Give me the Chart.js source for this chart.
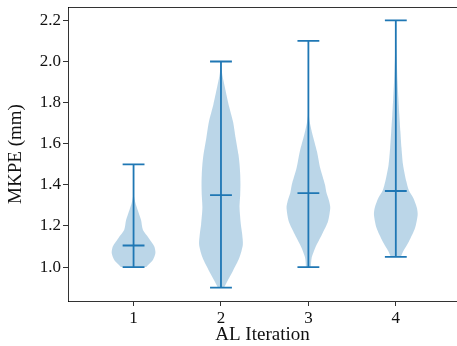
<!DOCTYPE html>
<html><head><meta charset="utf-8">
<script src="https://cdn.jsdelivr.net/npm/chart.js@4.4.1/dist/chart.umd.min.js"></script>
<style>
html,body{margin:0;padding:0;overflow:hidden;background:#fff;width:457px;height:346px}
</style>
</head><body><canvas id="c" width="457" height="346"></canvas>
<script>
// ---- data ----
const categories = ['1', '2', '3', '4'];
const positions = [1, 2, 3, 4];
const mins = [1.0, 0.9, 1.0, 1.05];
const maxs = [1.5, 2.0, 2.1, 2.2];
const medians = [1.105, 1.35, 1.36, 1.37];
const yTicks = [1.0, 1.2, 1.4, 1.6, 1.8, 2.0, 2.2];

// kernel density profiles (value, relative width 0..1)
const kdeY1 = [1.00, 1.012, 1.036, 1.069, 1.10, 1.142, 1.18, 1.23, 1.28, 1.31, 1.34, 1.36, 1.5];
const kdeW1 = [0.58, 0.69, 0.89, 1.00, 0.95, 0.69, 0.43, 0.34, 0.18, 0.09, 0.03, 0.0, 0.0];
const kdeY2 = [0.90, 0.931, 0.98, 1.045, 1.109, 1.16, 1.207, 1.288, 1.352, 1.40, 1.449, 1.50, 1.547, 1.628, 1.708, 1.79, 1.873, 1.93, 1.97, 2.0];
const kdeW2 = [0.14, 0.29, 0.54, 0.84, 1.00, 0.97, 0.91, 0.85, 0.88, 0.89, 0.88, 0.85, 0.80, 0.67, 0.55, 0.35, 0.18, 0.07, 0.02, 0.0];
const kdeY3 = [1.0, 1.045, 1.093, 1.158, 1.223, 1.288, 1.32, 1.36, 1.401, 1.482, 1.563, 1.644, 1.70, 1.74, 1.8, 2.1];
const kdeW3 = [0.11, 0.15, 0.31, 0.62, 0.90, 1.00, 0.95, 0.83, 0.76, 0.54, 0.39, 0.19, 0.07, 0.02, 0.0, 0.0];
const kdeY4 = [1.05, 1.077, 1.125, 1.19, 1.255, 1.29, 1.336, 1.372, 1.417, 1.498, 1.579, 1.66, 1.741, 1.82, 1.903, 2.016, 2.1, 2.2];
const kdeW4 = [0.23, 0.34, 0.60, 0.88, 1.00, 0.96, 0.80, 0.60, 0.48, 0.33, 0.26, 0.21, 0.16, 0.12, 0.08, 0.04, 0.01, 0.0];

const kdeYs = [kdeY1, kdeY2, kdeY3, kdeY4];
const kdeWs = [kdeW1, kdeW2, kdeW3, kdeW4];

// ---- styling ----
const BLUE = '#1f77b4';
const BODY = 'rgba(31,119,180,0.3)';
const HALF = 0.25;     // violin half width (widths = 0.5)
const CAP = 0.125;     // cap half length
const FONT = '"Liberation Serif", "Times New Roman", serif';
const SPINE = 'rgba(0,0,0,0.8)';

const datasets = [];
positions.forEach((c, i) => {
  const ys = kdeYs[i], ws = kdeWs[i];
  const outline = [];
  for (let k = 0; k < ys.length; k++) outline.push({x: c + ws[k] * HALF, y: ys[k]});
  for (let k = ys.length - 1; k >= 0; k--) outline.push({x: c - ws[k] * HALF, y: ys[k]});
  datasets.push({
    data: outline, indexAxis: 'y', fill: 'shape', backgroundColor: BODY,
    borderWidth: 0, borderColor: 'rgba(0,0,0,0)', pointRadius: 0, tension: 0.25, order: 2
  });
});
positions.forEach((c, i) => {
  const gap = {x: c, y: null};
  datasets.push({
    data: [
      {x: c, y: mins[i]}, {x: c, y: maxs[i]}, gap,
      {x: c - CAP, y: mins[i]}, {x: c + CAP, y: mins[i]}, gap,
      {x: c - CAP, y: maxs[i]}, {x: c + CAP, y: maxs[i]}, gap,
      {x: c - CAP, y: medians[i]}, {x: c + CAP, y: medians[i]}
    ],
    fill: false, borderColor: BLUE, borderWidth: 1.8, pointRadius: 0, tension: 0,
    spanGaps: false, order: 1
  });
});

const frame = {
  id: 'frame',
  afterDraw(chart) {
    const {ctx, chartArea: a} = chart;
    ctx.save();
    ctx.strokeStyle = SPINE; ctx.lineWidth = 1;
    ctx.beginPath();
    ctx.moveTo(a.left, a.top + 0.5); ctx.lineTo(a.right, a.top + 0.5);
    ctx.stroke();
    ctx.restore();
  }
};

const tickColor = (ctx) => (ctx.tick && positions.includes(ctx.tick.value)) ? SPINE : 'rgba(0,0,0,0)';

new Chart(document.getElementById('c'), {
  type: 'line',
  data: {datasets},
  plugins: [frame],
  options: {
    responsive: false, animation: false, devicePixelRatio: 1,
    layout: {padding: {top: 7, left: 0, right: 0, bottom: 0}},
    plugins: {legend: {display: false}, tooltip: {enabled: false}},
    scales: {
      x: {
        type: 'linear', min: 0.25, max: 4.70,
        afterBuildTicks: s => { s.ticks = positions.map(v => ({value: v})); },
        afterFit: s => { s.height = 45; s.paddingLeft = 0; s.paddingRight = 0; },
        ticks: {
          callback: (v) => categories[positions.indexOf(v)],
          font: {family: FONT, size: 17}, color: '#111', padding: 2, maxRotation: 0
        },
        grid: {display: true, drawOnChartArea: false, drawTicks: true, tickLength: 5, color: tickColor},
        border: {display: true, color: SPINE, width: 1},
        title: {display: true, text: 'AL Iteration', font: {family: FONT, size: 19}, color: '#111', padding: 0}
      },
      y: {
        type: 'linear', min: 0.835, max: 2.265,
        afterBuildTicks: s => { s.ticks = yTicks.map(v => ({value: v})); },
        afterFit: s => { s.width = 68; s.paddingTop = 0; s.paddingBottom = 0; },
        ticks: {
          callback: (v) => v.toFixed(1),
          font: {family: FONT, size: 17}, color: '#111', padding: 2
        },
        grid: {drawOnChartArea: false, drawTicks: true, tickLength: 5, color: SPINE},
        border: {color: SPINE, width: 1},
        title: {display: true, text: 'MKPE (mm)', font: {family: FONT, size: 19}, color: '#111', padding: 5}
      }
    }
  }
});
</script>
</body></html>
